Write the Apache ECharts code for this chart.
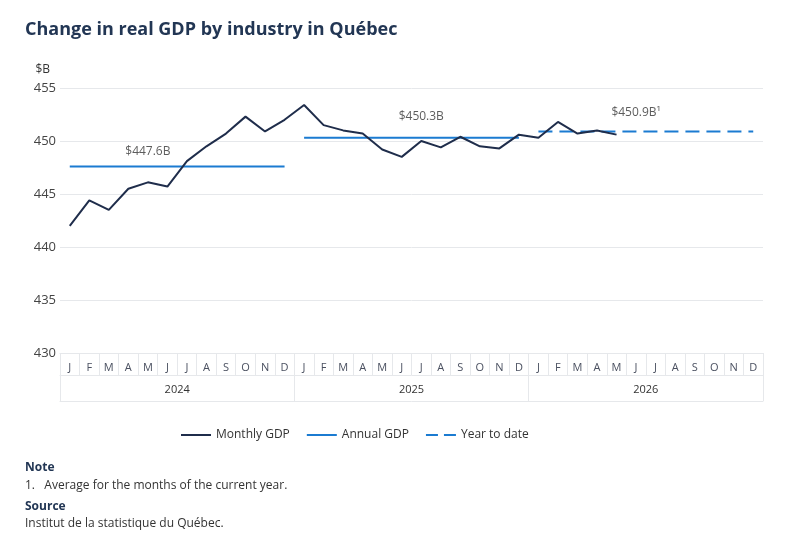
<!DOCTYPE html>
<html>
<head>
<meta charset="utf-8">
<script src="https://cdn.jsdelivr.net/npm/echarts@6/dist/echarts.min.js"></script>
<style>
  html, body { margin: 0; padding: 0; background: #fff; }
  #chart { width: 800px; height: 555px; }
</style>
</head>
<body>
<div id="chart"></div>
<script>
// months shown on the axis (Jan 2024 - Dec 2026)
const monthLetters = ['J', 'F', 'M', 'A', 'M', 'J', 'J', 'A', 'S', 'O', 'N', 'D'];
const years = ['2024', '2025', '2026'];

// monthly GDP, $B, Jan 2024 to May 2026
const monthlyGdp = [
    442.0, 444.4, 443.5, 445.5, 446.1, 445.7, 448.1, 449.5, 450.7, 452.3, 450.9, 452.0,
    453.4, 451.5, 451.0, 450.7, 449.2, 448.5, 450.0, 449.4, 450.4, 449.5, 449.3, 450.6,
    450.3, 451.8, 450.7, 451.0, 450.6
];

// annual averages (last one is year to date)
const annualGdp = [447.6, 450.3, 450.9];
const annualLabels = ['$447.6B', '$450.3B', '$450.9B¹'];
// month (index in the year) the label sits above
const labelMonth = [4, 6, 5];

const font = '"Open Sans", "Noto Sans", sans-serif';
const navy = '#1f2d4b';
const blue = '#1b7bd1';

const solidIcon = 'path://M0,0H30V2H0Z';
const dashIcon = 'path://M0,0H12V2H0Z M18,0H30V2H18Z';

const categories = [];
years.forEach(function (y) {
    monthLetters.forEach(function (m, i) {
        categories.push(y + '-' + (i + 1));
    });
});
const monthData = monthLetters.concat(monthLetters, monthLetters);

const monthlySeries = categories.map(function (c, i) {
    return i < monthlyGdp.length ? monthlyGdp[i] : null;
});

function yearSeries(yi) {
    return categories.map(function (c, i) {
        return Math.floor(i / 12) === yi ? annualGdp[yi] : null;
    });
}

const labelGap = [9, 15, 13];
const labelData = annualGdp.map(function (v, yi) {
    return {
        value: [categories[yi * 12 + labelMonth[yi]], v],
        label: { formatter: annualLabels[yi], distance: labelGap[yi] }
    };
});

const chart = echarts.init(document.getElementById('chart'));

const gridColor = '#e6e8eb';

const option = {
    animation: false,
    textStyle: { fontFamily: font },
    grid: { left: 60, right: 37, top: 88, bottom: 202 },
    legend: {
        left: 176,
        top: 424,
        itemWidth: 30,
        itemHeight: 2,
        itemGap: 17,
        textStyle: { fontFamily: font, fontSize: 12, color: '#333' },
        data: [
            { name: 'Monthly GDP', icon: solidIcon },
            { name: 'Annual GDP', icon: solidIcon },
            { name: 'Year to date', icon: dashIcon }
        ]
    },
    xAxis: [
        {
            type: 'category',
            data: monthData,
            position: 'bottom',
            boundaryGap: true,
            axisLine: { lineStyle: { color: gridColor } },
            axisTick: { show: true, interval: 0, length: 22, lineStyle: { color: gridColor } },
            axisLabel: { interval: 0, margin: 9, fontSize: 11, color: '#4a5060', fontFamily: font }
        },
        {
            type: 'category',
            data: years,
            position: 'bottom',
            offset: 22,
            boundaryGap: true,
            axisLine: { lineStyle: { color: gridColor } },
            axisTick: { show: true, interval: 0, length: 26, lineStyle: { color: gridColor } },
            axisLabel: { interval: 0, margin: 9, fontSize: 11, color: '#333', fontFamily: font }
        },
        {
            type: 'category',
            data: [''],
            position: 'bottom',
            offset: 48,
            axisLine: { lineStyle: { color: gridColor } },
            axisTick: { show: false },
            axisLabel: { show: false }
        },
        {
            type: 'category',
            data: categories,
            show: false,
            boundaryGap: true
        }
    ],
    yAxis: {
        type: 'value',
        min: 430,
        max: 455,
        interval: 5,
        name: '$B',
        nameLocation: 'end',
        nameGap: 12,
        nameTextStyle: { align: 'right', padding: [0, 10, 0, 0], fontSize: 12, color: '#333', fontFamily: font },
        axisLine: { show: false },
        axisTick: { show: false },
        axisLabel: { fontSize: 13, color: '#444', margin: 4, fontFamily: font },
        splitLine: { lineStyle: { color: gridColor } }
    },
    series: [
        {
            name: 'Monthly GDP',
            type: 'line',
            xAxisIndex: 3,
            data: monthlySeries,
            symbol: 'none',
            lineStyle: { color: navy, width: 2 },
            itemStyle: { color: navy },
            z: 5
        },
        {
            name: 'Annual GDP',
            type: 'line',
            xAxisIndex: 3,
            data: yearSeries(0),
            symbol: 'none',
            lineStyle: { color: blue, width: 2 },
            itemStyle: { color: blue }
        },
        {
            name: 'Annual GDP',
            type: 'line',
            xAxisIndex: 3,
            data: yearSeries(1),
            symbol: 'none',
            lineStyle: { color: blue, width: 2 },
            itemStyle: { color: blue }
        },
        {
            name: 'Year to date',
            type: 'line',
            xAxisIndex: 3,
            data: yearSeries(2),
            symbol: 'none',
            lineStyle: { color: blue, width: 2, type: [14, 7] },
            itemStyle: { color: blue }
        },
        {
            name: 'labels',
            type: 'scatter',
            xAxisIndex: 3,
            data: labelData,
            symbolSize: 0,
            silent: true,
            label: {
                show: true,
                position: 'top',
                fontSize: 12,
                color: '#333',
                fontFamily: font
            }
        }
    ],
    graphic: [
        {
            type: 'text', left: 25, top: 21,
            style: { text: 'Change in real GDP by industry in Québec', font: 'bold 18px ' + font, fill: '#223654' }
        },
        {
            type: 'text', left: 25, top: 462,
            style: { text: 'Note', font: 'bold 12px ' + font, fill: '#223654' }
        },
        {
            type: 'text', left: 25, top: 480,
            style: { text: '1.   Average for the months of the current year.', font: '12px ' + font, fill: '#333' }
        },
        {
            type: 'text', left: 25, top: 501,
            style: { text: 'Source', font: 'bold 12px ' + font, fill: '#223654' }
        },
        {
            type: 'text', left: 25, top: 518,
            style: { text: 'Institut de la statistique du Québec.', font: '12px ' + font, fill: '#333' }
        }
    ]
};

chart.setOption(option);
</script>
</body>
</html>
